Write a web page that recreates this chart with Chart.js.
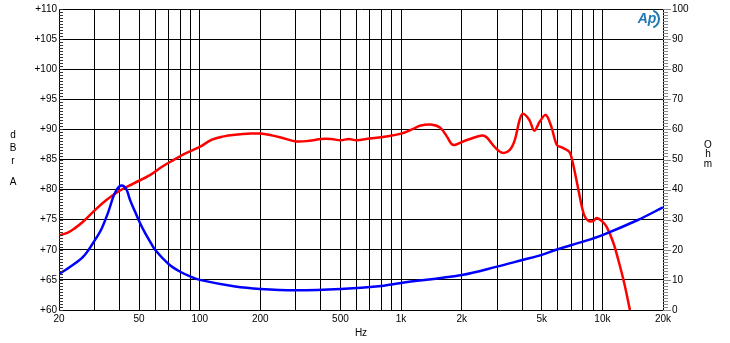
<!DOCTYPE html>
<html>
<head>
<meta charset="utf-8">
<script src="https://cdn.jsdelivr.net/npm/chart.js@4.4.0/dist/chart.umd.min.js"></script>
<style>
    html, body { margin: 0; padding: 0; background: #fff; }
    #wrap { width: 730px; height: 343px; position: relative; }
</style>
</head>
<body>
<div id="wrap"><canvas id="apChart"></canvas></div>
<script>
// Frequency response (dBrA, left axis)
const splFreq = [20, 22, 24, 26.4, 30, 34.5, 40, 46.8, 56.6, 65, 74, 85, 100, 115, 130, 150, 180, 200, 250, 300, 350, 400, 450, 500, 550, 600, 700, 800, 1000, 1150, 1240, 1400, 1560, 1690, 1780, 1840, 2000, 2200, 2520, 2660, 2930, 3200, 3470, 3670, 3880, 4030, 4330, 4590, 4890, 5230, 5570, 5940, 6290, 6840, 7040, 7380, 7660, 8110, 8530, 9030, 9350, 9920, 10500, 11300, 12000, 12850, 13700];
const splDb = [72.4, 72.8, 73.6, 74.7, 76.5, 78.3, 79.8, 81.0, 82.4, 83.8, 84.9, 86.0, 87.1, 88.3, 88.8, 89.1, 89.3, 89.3, 88.7, 88.0, 88.1, 88.4, 88.4, 88.2, 88.4, 88.2, 88.5, 88.7, 89.3, 90.1, 90.6, 90.8, 90.3, 88.8, 87.6, 87.4, 87.9, 88.4, 89.0, 88.7, 87.0, 86.1, 86.6, 88.2, 91.6, 92.6, 91.6, 89.8, 91.3, 92.4, 90.5, 87.4, 87.0, 86.3, 85.2, 82.1, 79.4, 75.8, 74.8, 74.8, 75.3, 74.8, 73.8, 71.3, 68.3, 64.4, 60.0];

// Impedance (Ohm, right axis)
const impFreq = [20, 22, 26.4, 30.2, 32.6, 35.2, 37.2, 38.7, 40.0, 41.0, 42.0, 43.4, 45.1, 47.7, 50.5, 53.5, 56.6, 60, 70, 80, 90, 100, 150, 200, 300, 500, 800, 1000, 2000, 3000, 4000, 5000, 6000, 8000, 10000, 15000, 20000];
const impOhm = [12.0, 13.7, 17.7, 23.3, 27.1, 32.7, 37.6, 40.0, 41.1, 41.4, 41.1, 39.9, 36.5, 32.7, 28.9, 25.6, 22.8, 20.0, 15.3, 12.7, 11.1, 10.0, 7.8, 7.0, 6.6, 7.0, 8.0, 9.0, 11.6, 14.4, 16.6, 18.3, 20.2, 22.7, 24.9, 29.9, 34.1];

// Axis ticks
const freqGrid = [20, 30, 40, 50, 60, 70, 80, 90, 100, 200, 300, 400, 500, 600, 700, 800, 900,
    1000, 2000, 3000, 4000, 5000, 6000, 7000, 8000, 9000, 10000, 20000];
const freqLabels = { 20: '20', 50: '50', 100: '100', 200: '200', 500: '500', 1000: '1k', 2000: '2k', 5000: '5k', 10000: '10k', 20000: '20k' };
const dbTicks = [60, 65, 70, 75, 80, 85, 90, 95, 100, 105, 110];
const ohmTicks = [0, 10, 20, 30, 40, 50, 60, 70, 80, 90, 100];

const FONT = { family: 'Liberation Sans, Arial, sans-serif', size: 10 };

function toPoints(xs, ys) {
    return xs.map((x, i) => ({ x: x, y: ys[i] }));
}

// Minor ticks, stacked axis titles and the AP mark
const decorPlugin = {
    id: 'decor',
    afterDraw(chart) {
        const ctx = chart.ctx;
        const area = chart.chartArea;
        const yL = chart.scales.y;
        const yR = chart.scales.y1;
        ctx.save();
        ctx.lineWidth = 1;

        ctx.strokeStyle = '#333';
        for (let v = 60; v <= 110; v += 0.5) {
            const py = Math.round(yL.getPixelForValue(v)) + 0.5;
            ctx.beginPath();
            ctx.moveTo(area.left, py);
            ctx.lineTo(area.left + 4, py);
            ctx.stroke();
        }

        ctx.strokeStyle = '#888';
        for (let v = 0; v <= 100; v += 1) {
            const py = Math.round(yR.getPixelForValue(v)) + 0.5;
            const len = v % 10 === 0 ? 8 : 5;
            ctx.beginPath();
            ctx.moveTo(area.right, py);
            ctx.lineTo(area.right + len, py);
            ctx.stroke();
        }

        ctx.fillStyle = '#000';
        ctx.font = '10px ' + FONT.family;
        ctx.textAlign = 'center';
        ctx.textBaseline = 'middle';
        const dbLetters = [['d', 135], ['B', 148], ['r', 161], ['A', 182]];
        dbLetters.forEach(l => ctx.fillText(l[0], 13, l[1]));
        const ohmLetters = [['O', 145], ['h', 154], ['m', 164]];
        ohmLetters.forEach(l => ctx.fillText(l[0], 708, l[1]));

        // AP logo
        ctx.fillStyle = '#1f77b4';
        ctx.strokeStyle = '#1f77b4';
        ctx.font = 'italic bold 14px ' + FONT.family;
        ctx.fillText('Ap', 647, 19);
        ctx.lineWidth = 2;
        ctx.beginPath();
        ctx.arc(650, 19, 9, -1.2, 1.2);
        ctx.stroke();
        ctx.restore();
    }
};

document.addEventListener('DOMContentLoaded', () => {
    const ctx = document.getElementById('apChart').getContext('2d');
    new Chart(ctx, {
        type: 'line',
        data: {
            datasets: [
                {
                    label: 'Impedance',
                    data: toPoints(impFreq, impOhm),
                    yAxisID: 'y1',
                    borderColor: '#0000ff',
                    borderWidth: 2.5,
                    pointRadius: 0,
                    tension: 0.35,
                    order: 0
                },
                {
                    label: 'Level',
                    data: toPoints(splFreq, splDb),
                    yAxisID: 'y',
                    borderColor: '#ff0000',
                    borderWidth: 2.5,
                    pointRadius: 0,
                    tension: 0.35,
                    order: 1
                }
            ]
        },
        options: {
            responsive: true,
            maintainAspectRatio: false,
            animation: false,
            layout: { padding: { top: 9, left: 0, right: 0, bottom: 0 } },
            plugins: { legend: { display: false }, tooltip: { enabled: false } },
            scales: {
                x: {
                    type: 'logarithmic',
                    min: 20,
                    max: 20000,
                    afterBuildTicks: s => { s.ticks = freqGrid.map(v => ({ value: v })); },
                    afterFit: s => { s.height = 33; s.paddingLeft = 0; s.paddingRight = 0; },
                    grid: { color: '#000', lineWidth: 1, drawTicks: false },
                    border: { color: '#000' },
                    ticks: {
                        autoSkip: false,
                        maxRotation: 0,
                        padding: 3,
                        color: '#000',
                        font: FONT,
                        callback: v => freqLabels[v] || ''
                    },
                    title: { display: true, text: 'Hz', color: '#000', font: FONT, padding: { top: 0, bottom: 4 } }
                },
                y: {
                    position: 'left',
                    min: 60,
                    max: 110,
                    afterBuildTicks: s => { s.ticks = dbTicks.map(v => ({ value: v })); },
                    afterFit: s => { s.width = 59; s.paddingTop = 0; s.paddingBottom = 0; },
                    grid: { color: '#000', lineWidth: 1, drawTicks: false },
                    border: { color: '#000' },
                    ticks: { padding: 2, color: '#000', font: FONT, callback: v => '+' + v }
                },
                y1: {
                    position: 'right',
                    min: 0,
                    max: 100,
                    afterBuildTicks: s => { s.ticks = ohmTicks.map(v => ({ value: v })); },
                    afterFit: s => { s.width = 67; s.paddingTop = 0; s.paddingBottom = 0; },
                    grid: { drawOnChartArea: false, drawTicks: false },
                    border: { color: '#000' },
                    ticks: { padding: 9, color: '#000', font: FONT }
                }
            }
        },
        plugins: [decorPlugin]
    });
});
</script>
</body>
</html>
